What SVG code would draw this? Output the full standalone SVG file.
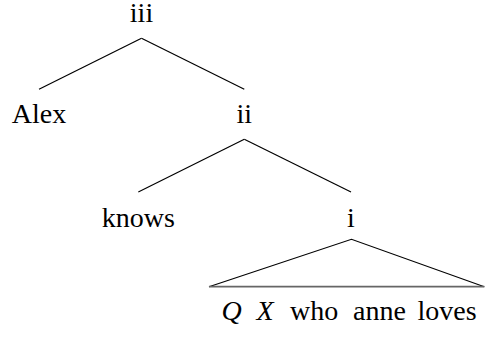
<svg xmlns="http://www.w3.org/2000/svg" width="485" height="339" viewBox="0 0 485 339">
<style>
text{font-family:"Liberation Serif","Times New Roman",serif;font-size:28px;fill:#000}
.c{text-anchor:middle}
.e{stroke:#000;stroke-width:1.2;fill:none}
.it{font-style:italic}
</style>
<rect width="485" height="339" fill="#fff"/>
<g id="connectors">
<line class="e" x1="141.5" y1="38.3" x2="39" y2="89.3"/>
<line class="e" x1="141.5" y1="38.3" x2="244.3" y2="89.3"/>
<line class="e" x1="244.3" y1="139.3" x2="138.3" y2="192"/>
<line class="e" x1="244.3" y1="139.3" x2="351" y2="192"/>
<polyline class="e" points="209,286.7 351.5,239.3 484.3,286.7"/>
<line x1="209" y1="286.7" x2="484.3" y2="286.7" stroke="#666" stroke-width="1.8"/>
</g>
<g id="n-iii"><text class="c" x="141.5" y="22">iii</text></g>
<g id="n-alex"><text class="c" x="39" y="122.7">Alex</text></g>
<g id="n-ii"><text class="c" x="244.3" y="122.7">ii</text></g>
<g id="n-knows"><text class="c" x="138.3" y="226.5">knows</text></g>
<g id="n-i"><text class="c" x="351" y="226.5">i</text></g>
<g id="n-leaf"><text y="320"><tspan class="it" x="221.5">Q</tspan><tspan class="it" x="256.5">X</tspan><tspan x="290">who</tspan><tspan x="353">anne</tspan><tspan x="417.5">loves</tspan></text></g>
</svg>
